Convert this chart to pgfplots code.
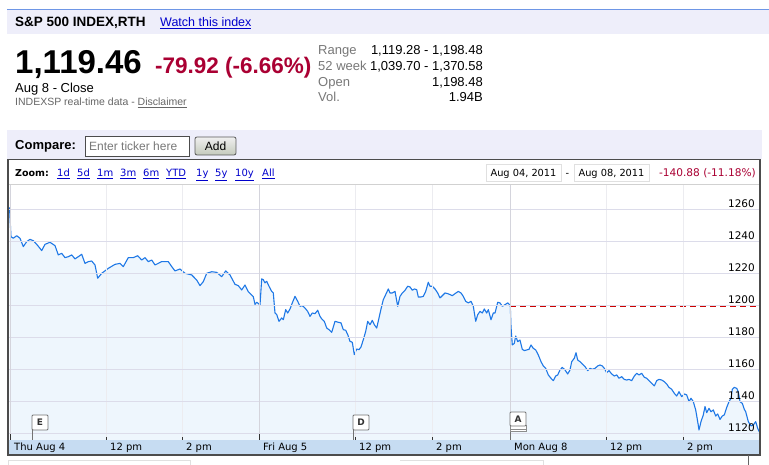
\documentclass[border=0pt]{standalone}
\usepackage{pgfplots}
\pgfplotsset{compat=1.18}
\usepackage{pgfplotstable}
\usepackage{fontspec}
\setmainfont{Liberation Sans}
\newfontfamily\verd{DejaVu Sans}
\definecolor{crim}{RGB}{170,0,51}
\definecolor{lnk}{RGB}{0,0,204}
\definecolor{lav}{RGB}{238,238,250}
\definecolor{topblue}{RGB}{110,150,230}
\definecolor{band}{RGB}{198,220,242}
\definecolor{linec}{RGB}{30,120,230}
\definecolor{fillc}{RGB}{238,246,253}
\definecolor{ygrid}{RGB}{220,220,234}
\definecolor{xgrid}{RGB}{236,236,240}
\definecolor{dgrid}{RGB}{212,212,220}
\definecolor{txtgray}{RGB}{102,102,102}
\definecolor{lblgray}{RGB}{120,120,120}

\pgfplotstableread{
x y
9.5 1261
11 1242.7
13.3 1241.7
16.7 1243.3
20 1241.7
23.3 1236.5
26.7 1239.6
30 1241.0
33.3 1240.2
36.7 1237.9
40 1235.4
41.7 1234.0
45 1237.9
50 1239.2
55 1237.1
58.3 1231.3
61.7 1232.3
65 1229.6
68.3 1230.2
71.7 1231.3
75 1228.8
78.3 1230.2
81.7 1231.7
85 1226.0
88.3 1227.1
91.7 1227.5
95 1225.0
97.7 1216.7
101.7 1219.8
108.3 1222.9
115 1225.4
120 1226.0
123.3 1224.0
128.3 1229.6
133.3 1229.6
137.7 1230.8
141.7 1228.1
145 1229.6
148.3 1227.1
151.7 1228.1
155 1225.0
161.7 1227.1
168.3 1227.1
171.7 1224.0
175 1221.3
180 1222.5
185 1219.8
191.7 1218.8
196.7 1215.6
200 1212.1
203.3 1214.6
206.7 1219.8
211.7 1220.8
216.7 1220.4
221.7 1217.7
225.7 1221.3
230 1218.8
235 1212.9
238.3 1212.1
241.7 1209.4
245 1212.5
248.3 1208.3
253.3 1205.2
255 1200.4
256.7 1201.7
258.3 1201.0
260 1200.0
261.7 1216.3
263.3 1215.8
265 1213.8
266.7 1214.8
269 1211.7
271.7 1208.5
273.3 1207.5
275 1195.0
276.7 1194.0
279 1189.8
281.7 1191.9
283.3 1190.8
285.7 1197.1
287.7 1195.0
290 1197.5
292.3 1201.3
295 1205.4
297.7 1202.3
300 1199.2
302.3 1199.6
305 1198.1
307.7 1196.0
310 1192.9
312.3 1195.0
315 1194.6
317.7 1196.7
320 1192.9
321.7 1191.3
324.3 1189.8
326.7 1185.6
329 1184.6
331.7 1182.9
335 1189.8
338.3 1189.2
341 1188.8
343.3 1184.6
345.7 1184.2
347.7 1181.5
350 1177.3
352.3 1176.7
354.3 1169.0
356.7 1172.5
359 1172.1
361 1173.8
363.3 1178.3
365.7 1183.5
367.7 1189.8
370 1187.7
372.3 1190.4
374.3 1187.7
376.7 1185.6
379 1191.9
381 1197.5
383.3 1203.3
385.7 1206.5
388.3 1210.0
390 1207.5
392.3 1207.5
395 1208.5
397.7 1199.2
400 1205.4
402.3 1207.5
405 1209.2
407.7 1211.7
410 1211.3
412.3 1209.2
414.3 1210.0
416.7 1209.6
418.3 1205.0
421 1205.0
423.3 1205.4
425.7 1208.5
428.3 1214.2
430 1211.7
432.3 1211.7
435 1210.0
437.7 1207.5
440 1204.4
442.3 1205.8
445 1207.5
447.7 1207.1
450 1206.5
452.3 1205.8
455 1207.1
458.3 1208.5
461 1207.5
463.3 1205.4
465.7 1202.3
468.3 1201.3
471 1202.3
473.3 1199.2
475.7 1189.8
477.7 1193.9
480 1196.0
482.3 1195.0
484.3 1197.5
486.7 1195.0
488.3 1197.1
491 1190.8
493.3 1195.0
495 1195.0
497.7 1201.7
500 1201.3
502.3 1199.2
505 1200.2
507.7 1201.3
509 1200.6
510.3 1199.0
511 1186.5
512.3 1175.0
514.3 1176.0
515.7 1180.6
517.7 1177.1
520 1178.1
522.3 1172.3
524.3 1171.5
526.7 1171.9
529 1172.3
531 1175.0
533.3 1172.9
535.7 1171.9
538.3 1168.8
541 1164.6
543.3 1161.9
545.7 1160.4
548.3 1156.3
551 1154.2
553.3 1152.7
555.7 1155.6
557.7 1156.3
560 1159.4
562.3 1161.0
565 1159.4
567.7 1156.9
570 1159.4
571.7 1164.6
574.3 1166.7
576 1170.2
577.7 1165.6
580 1164.6
582.3 1163.1
585 1161.5
587.7 1159.0
590 1160.4
592.3 1159.8
595 1160.4
597.7 1161.9
600 1162.5
602.3 1161.9
604.3 1160.4
606.7 1157.7
609 1159.0
611.7 1156.9
614.3 1155.6
616.7 1156.3
619 1154.2
621.7 1155.2
624.3 1153.5
626.7 1153.1
629 1153.5
631.7 1152.7
634.3 1155.6
636.7 1157.3
639 1156.3
641.7 1157.3
644.3 1154.8
646.7 1154.2
649 1152.7
651.7 1151.0
654.3 1149.4
656.7 1152.7
659 1153.5
661.7 1153.1
664.3 1152.1
666.7 1150.6
669 1148.5
671.7 1147.3
674.3 1144.8
676.7 1143.1
679 1145.8
681.7 1142.7
684.3 1144.4
686.7 1143.8
689 1139.6
691 1141.7
693.3 1139.6
695.7 1134.4
697.7 1127.1
699 1121.9
701 1127.1
703.3 1131.3
705 1136.5
706.7 1132.7
709 1135.4
711 1133.3
713.3 1134.4
715.7 1130.6
717.7 1131.9
720 1128.5
722.3 1130.6
724.3 1131.3
726.7 1136.0
729 1139.6
731 1141.7
732.3 1147.3
734.3 1148.5
736.7 1147.9
738.3 1145.8
740 1139.6
742.3 1138.5
744.3 1134.8
745.7 1133.3
748.3 1127.1
751 1124.4
753.3 1125.0
755.7 1127.1
757.7 1122.9
760 1119.8
}\spx

\pgfplotstableread{
x y
510 1199.38
760 1199.38
}\prevclose

\begin{document}
\begin{tikzpicture}[x=1pt,y=1pt]
\useasboundingbox (0,0) rectangle (769,465);
\fill[white] (0,0) rectangle (769,465);
% header band
\fill[lav] (7,431) rectangle (769,455);
\draw[topblue, line width=1pt] (7,455) -- (769,455);
\node[anchor=base west, inner sep=0pt, font=\fontsize{13.5}{16}\selectfont\bfseries] at (15,438) {S\&P 500 INDEX,RTH};
\node[anchor=base west, inner sep=0pt, font=\fontsize{12.5}{15}\selectfont, text=lnk] at (160,438) {\underline{Watch this index}};
% price block
\node[anchor=base west, inner sep=0pt, font=\fontsize{33}{38}\selectfont\bfseries] at (15,391) {1,119.46};
\node[anchor=base west, inner sep=0pt, font=\fontsize{22.5}{26}\selectfont\bfseries, text=crim] at (155,391) {-79.92 (-6.66\%)};
\node[anchor=base west, inner sep=0pt, font=\fontsize{13}{15}\selectfont] at (15,372) {Aug 8 - Close};
\node[anchor=base west, inner sep=0pt, font=\fontsize{10.5}{12}\selectfont, text=txtgray] at (15,359) {INDEXSP real-time data - \underline{Disclaimer}};
% right table
\foreach \lab/\val/\yy in {Range/{1,119.28 - 1,198.48}/410, 52 week/{1,039.70 - 1,370.58}/394, Open/{1,198.48}/378, Vol./{1.94B}/363}{
  \node[anchor=base west, inner sep=0pt, font=\fontsize{13}{15}\selectfont, text=lblgray] at (318,\yy) {\lab};
  \node[anchor=base east, inner sep=0pt, font=\fontsize{13}{15}\selectfont] at (483,\yy) {\val};
}
% compare band
\fill[lav] (7,306) rectangle (762,335);
\node[anchor=base west, inner sep=0pt, font=\fontsize{13}{15}\selectfont\bfseries] at (15,315) {Compare:};
\draw[fill=white, draw=black!70, line width=0.8pt] (85,309) rectangle (189,329);
\node[anchor=base west, inner sep=0pt, font=\fontsize{12}{14}\selectfont, text=lblgray] at (89,314) {Enter ticker here};
\shade[top color=white!94!black, bottom color={rgb,255:red,196;green,202;blue,188}, draw=black!65, rounded corners=2pt, line width=0.8pt] (195,310) rectangle (236,328);
\node[anchor=base, inner sep=0pt, font=\fontsize{12}{14}\selectfont] at (215.5,314) {Add};
% x band
\fill[band] (8,10) rectangle (760,25);
% zoom row
\node[anchor=base west, inner sep=0pt, font=\verd\bfseries\fontsize{9.5}{11}\selectfont] at (15,288) {Zoom:};
\foreach \zx/\zt in {57/1d,77/5d,97/1m,120/3m,143/6m,166/YTD,196/1y,215/5y,235/10y,262/All}{
  \node[anchor=base west, inner sep=0pt, font=\verd\fontsize{10}{11}\selectfont, text=lnk] at (\zx,288) {\underline{\zt}};
}
\draw[draw=black!12, fill=white] (486,284) rectangle (561,301);
\node[anchor=base, inner sep=0pt, font=\verd\fontsize{9.8}{11}\selectfont] at (523.5,288.5) {Aug 04, 2011};
\node[anchor=base, inner sep=0pt, font=\verd\fontsize{9.8}{11}\selectfont] at (567.5,288.5) {-};
\draw[draw=black!12, fill=white] (574,284) rectangle (649,301);
\node[anchor=base, inner sep=0pt, font=\verd\fontsize{9.8}{11}\selectfont] at (611.5,288.5) {Aug 08, 2011};
\node[anchor=base east, inner sep=0pt, font=\verd\fontsize{10.6}{12}\selectfont, text=crim] at (756,288.5) {-140.88 (-11.18\%)};

\begin{axis}[
  axis on top,
  at={(8pt,25pt)}, anchor=south west, scale only axis,
  width=752pt, height=256pt,
  xmin=8, xmax=760, ymin=1115.625, ymax=1275.625,
  axis line style={draw=none},
  clip=true,
  xtick={10,106,182,259,355,432,510,606,683},
  xticklabels={Thu Aug 4,12 pm,2 pm,Fri Aug 5,12 pm,2 pm,Mon Aug 8,12 pm,2 pm},
  xtick pos=bottom, tick align=inside, major tick length=2.5pt,
  xtick style={color=black!80, line width=0.8pt},
  xticklabel style={anchor=base west, inner sep=0pt, xshift=4pt, yshift=-11pt, font=\verd\fontsize{10}{12}\selectfont},
  ytick={1120,1140,...,1260},
  ytick style={draw=none},
  yticklabel pos=right,
  yticklabel style={anchor=base east, inner sep=0pt, xshift=-5pt, yshift=1.5pt, font=\verd\fontsize{10.5}{12}\selectfont, text=black},
  /pgf/number format/1000 sep={},
  /pgf/number format/assume math mode=true,
  xmajorgrids, ymajorgrids,
  x grid style={xgrid, line width=0.7pt},
  y grid style={ygrid, line width=0.7pt},
  extra x ticks={10,259,510}, extra x tick labels={},
  extra x tick style={major tick length=6pt, x grid style={dgrid, line width=0.8pt}},
]
\addplot[draw=none, fill=fillc] table {\spx} \closedcycle;
\addplot[draw={rgb,255:red,204;green,0;blue,0}, color={rgb,255:red,204;green,0;blue,0}, dash pattern=on 6pt off 4pt, line width=1.1pt, mark=none] table {\prevclose};
\addplot[linec, line width=1.1pt, line join=round] table {\spx};
\end{axis}

% zoom row separator and frame
\draw[black!18, line width=0.8pt] (8,281) -- (760,281);
\draw[black!70, line width=1.4pt] (8,10) rectangle (760,305.5);
% flags
\foreach \fx/\fl in {32/E,353/D}{
  \draw[black!55, line width=0.8pt] (\fx,25) -- (\fx,50);
  \draw[black!55, fill=white, line width=0.8pt, rounded corners=1pt] (\fx,35) rectangle (\fx+16,50);
  \node[inner sep=0pt, font=\verd\bfseries\fontsize{9}{10}\selectfont, text=black!80] at (\fx+8,42.5) {\fl};
}
\draw[black!55, line width=0.8pt] (510,25) -- (510,53);
\draw[black!45, fill=white, line width=0.6pt] (510,34) rectangle (526,38);
\draw[black!45, fill=white, line width=0.6pt] (510,36) rectangle (526,40);
\draw[black!55, fill=white, line width=0.8pt, rounded corners=1pt] (510,39) rectangle (526,53);
\node[inner sep=0pt, font=\verd\bfseries\fontsize{9}{10}\selectfont, text=black!80] at (518,46) {A};
% below frame remnants
\draw[black!12, line width=0.8pt] (8,0) -- (8,5) -- (190,5) -- (190,0);
\draw[black!12, line width=0.8pt] (400,5) -- (543,5) -- (543,0);
\draw[black!60, line width=1pt] (748,0) -- (748,10);
\end{tikzpicture}
\end{document}
